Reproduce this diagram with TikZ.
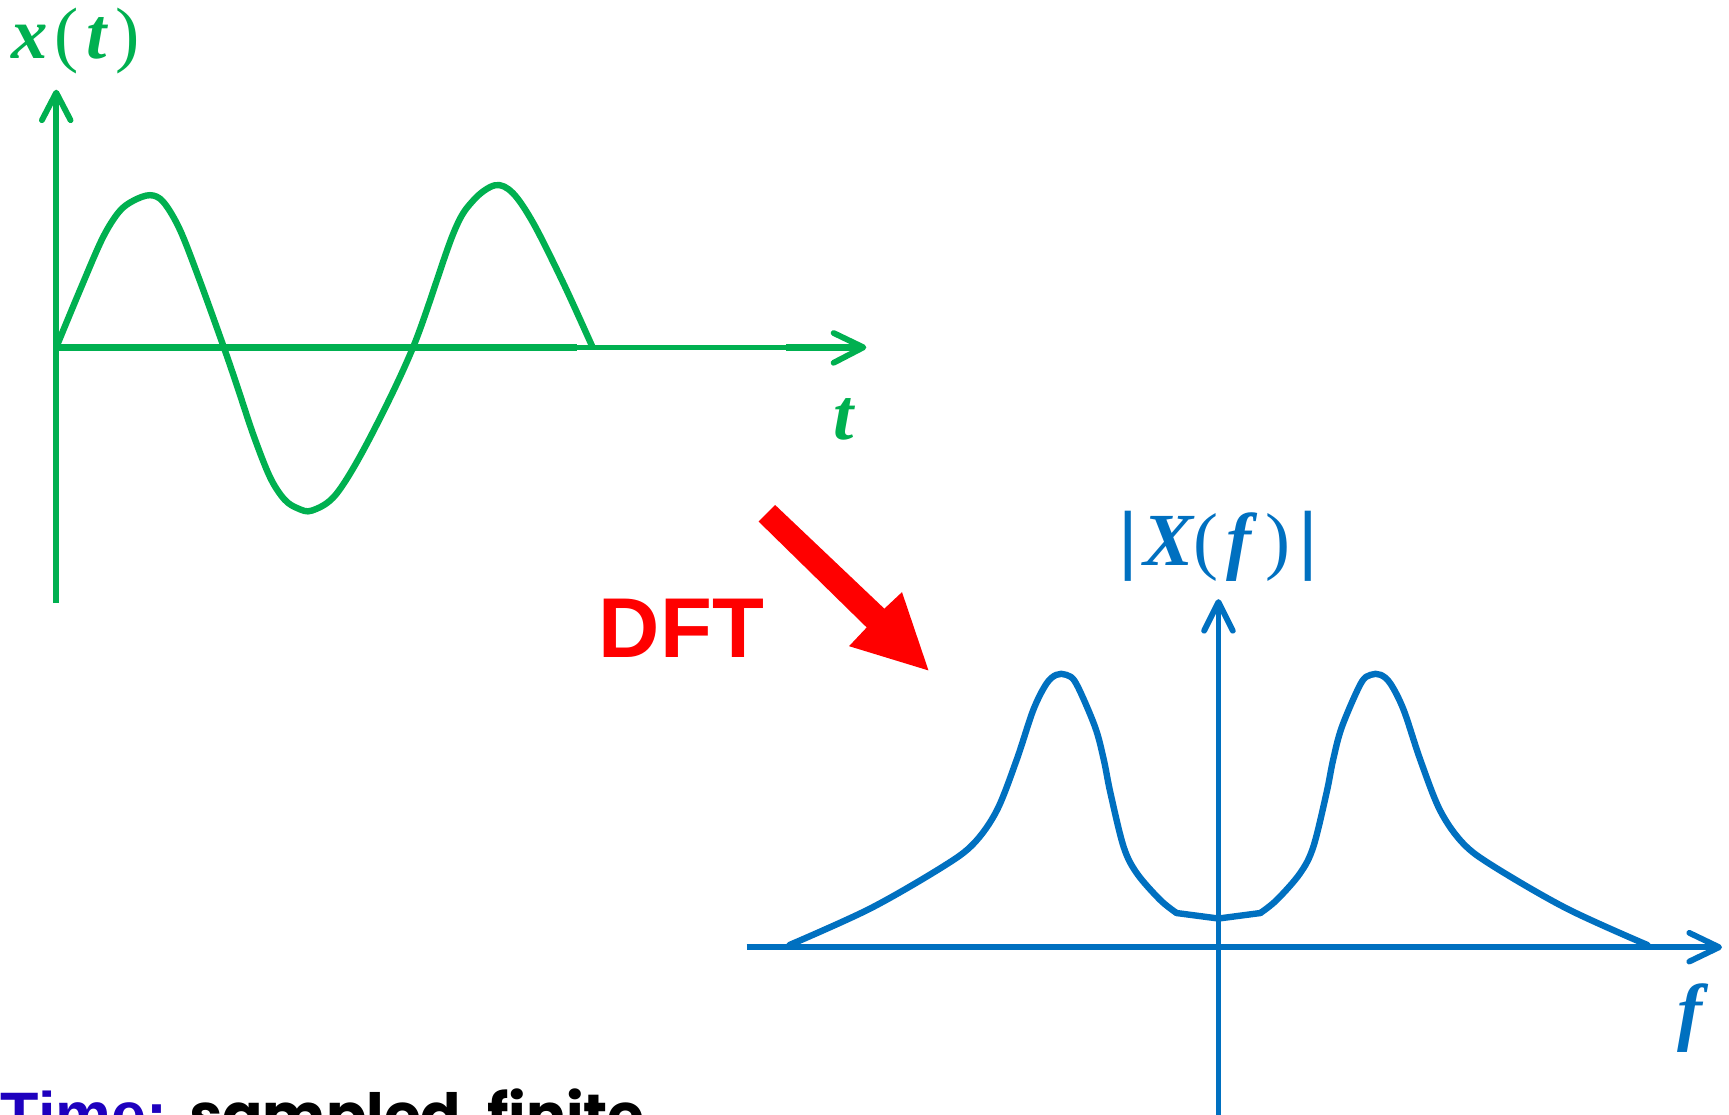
\documentclass[tikz,border=0pt]{standalone}
\usepackage{fontspec}
\setmainfont{Liberation Serif}
\setsansfont{Liberation Sans}
\newfontfamily\geofont{Poppins}
\definecolor{sgreen}{RGB}{0,176,80}
\definecolor{sblue}{RGB}{0,112,192}
\definecolor{tblue}{RGB}{30,0,190}
\definecolor{sred}{RGB}{255,0,0}
\newcommand\gly[2]{\makebox[0pt][l]{\hspace{#1pt}#2}}
\begin{document}
\begin{tikzpicture}[x=1pt,y=-1pt,
  axisline/.style={line width=5.3pt},
  chev/.style={line width=5.3pt, line cap=round, line join=round},
  curveline/.style={line width=5.8pt, line join=round, line cap=round},
  lbl/.style={inner sep=0pt, anchor=base west},
]
\useasboundingbox[fill=white] (0,0) rectangle (1568,1011);

% ---------- time domain (green) ----------
\coordinate (gO) at (51,315);
\coordinate (gXend) at (783,315);
\coordinate (gYtop) at (51,84);
\coordinate (gYbot) at (51,547);
\draw[axisline, sgreen, line width=4.6pt] (gO) -- (gXend);
\draw[axisline, sgreen, line width=5.8pt] (gO) -- (523,315);
\draw[axisline, sgreen, line width=5.8pt] (713,315) -- (gXend);
\draw[axisline, sgreen] (gYbot) -- (gYtop);
\draw[chev, sgreen] (756,302) -- (gXend) -- (756,329);
\draw[chev, sgreen] (38,109) -- (gYtop) -- (64,109);

\draw[curveline, sgreen] plot[smooth, tension=0.55] coordinates {
 (51,315) (73,262) (93,216) (108,192) (121,182) (136,177) (148,183)
 (163,208) (181,254) (203,315) (215,350) (230,395) (245,433) (258,453) (270,461)
 (283,463) (305,448) (335,398) (375,314)
 (411,212) (429,182) (449,168) (465,175) (484,203) (511,257) (537,314)};

\node[lbl, text=sgreen] (xt) at (0,53) {\fontsize{66}{70}\selectfont
  \gly{10}{\bfseries\itshape x}\gly{49}{(}\gly{78}{\bfseries\itshape t}\gly{104}{)}};
\node[lbl, text=sgreen] (tlab) at (756,399) {\fontsize{66}{70}\selectfont\bfseries\itshape t};

% ---------- DFT arrow ----------
\node[lbl, text=sred] (dft) at (543,596) {\fontsize{77}{80}\selectfont\sffamily\bfseries DFT};
\fill[sred] (688,473) -- (703,458) -- (802,552) -- (818,537) -- (842,608)
  -- (770,586) -- (786,569) -- cycle;

% ---------- frequency domain (blue) ----------
\coordinate (bO) at (1105,859);
\coordinate (bXbeg) at (677,859);
\coordinate (bXend) at (1559,859);
\coordinate (bYtop) at (1105,546);
\coordinate (bYbot) at (1105,1011);
\draw[axisline, sblue] (bXbeg) -- (bXend);
\draw[axisline, sblue] (bYbot) -- (bYtop);
\draw[chev, sblue] (1532,846) -- (bXend) -- (1532,872);
\draw[chev, sblue] (1092,572) -- (bYtop) -- (1118,572);

\draw[curveline, sblue] plot[smooth, tension=0.55] coordinates {
 (716,857) (789,824) (855,786) (883,765) (904,735) (922,689) (937,644) (949,620)
 (958,612) (967,612) (976,620) (993,659) (1001,689) (1007,719) (1019,768)
 (1031,792) (1052,816) (1067,828)};
\draw[curveline, sblue] (1067,828) -- (1105,833) -- (1143,828);
\draw[curveline, sblue] plot[smooth, tension=0.55] coordinates {
 (1143,828) (1158,816) (1179,792) (1191,768) (1203,719) (1209,689) (1217,659)
 (1234,620) (1243,612) (1252,612) (1261,620) (1273,644) (1288,689) (1306,735)
 (1327,765) (1355,786) (1421,824) (1494,857)};

\node[lbl, text=sblue] (xf) at (0,513) {\fontsize{68}{70}\selectfont
  \gly{1014}{\sffamily |}\gly{1036}{\bfseries\itshape X}\gly{1082}{(}%
  \gly{1112}{\bfseries\itshape f}\gly{1147}{)}\gly{1177}{\sffamily |}};
\node[lbl, text=sblue] (flab) at (1521,940) {\fontsize{68}{70}\selectfont\bfseries\itshape f};

% ---------- bottom caption (cut by the lower edge, as in the reference) ----------
\node[lbl] (cap) at (0,1031) {%
  \gly{0}{\fontsize{57}{60}\selectfont\textcolor{tblue}{\sffamily\bfseries Time:}}%
  \gly{171}{\fontsize{54}{60}\selectfont\geofont\bfseries sampled,\hspace{8pt}finite}};
\end{tikzpicture}
\end{document}
